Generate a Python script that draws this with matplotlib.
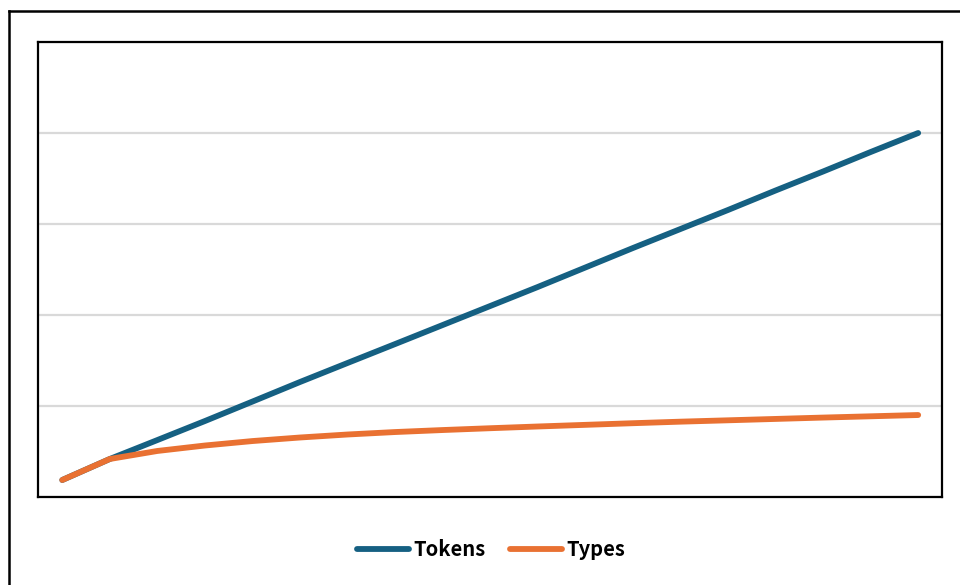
import matplotlib
matplotlib.use('Agg')
import matplotlib.pyplot as plt
from matplotlib.lines import Line2D

# sample number along the text, cumulative counts at each sample
samples = list(range(1, 20))
tokens = [1870, 4180, 6260, 8350, 10490, 12640, 14730, 16810, 18900, 20990,
          23080, 25220, 27360, 29450, 31540, 33680, 35770, 37910, 40000]
types = [1870, 4180, 5060, 5660, 6150, 6540, 6870, 7140, 7360, 7560,
         7750, 7930, 8110, 8280, 8430, 8580, 8730, 8870, 9010]
grid_ticks = [0, 10000, 20000, 30000, 40000, 50000]

BLUE = '#156082'
ORANGE = '#E97132'

fig = plt.figure(figsize=(9.6, 5.85), dpi=100)
ax = fig.add_axes([0.0401, 0.1504, 0.9411, 0.7778])

ax.plot(samples, tokens, color=BLUE, linewidth=4.2, solid_capstyle='round',
        solid_joinstyle='round', label='Tokens', zorder=3)
ax.plot(samples, types, color=ORANGE, linewidth=4.2, solid_capstyle='round',
        solid_joinstyle='round', label='Types', zorder=4)

ax.set_xlim(0.5, 19.5)
ax.set_ylim(grid_ticks[0], grid_ticks[-1])
ax.set_yticks(grid_ticks)
ax.set_xticks([])
ax.tick_params(left=False, labelleft=False)
ax.grid(axis='y', color='#d9d9d9', linewidth=1.6)
ax.set_axisbelow(True)
for s in ax.spines.values():
    s.set_color('black')
    s.set_linewidth(1.6)

# outer frame of the chart area
fig.add_artist(Line2D([9 / 960, 1.0], [1 - 11 / 585, 1 - 11 / 585], color='black', linewidth=1.8))
fig.add_artist(Line2D([9 / 960, 9 / 960], [0.0, 1 - 11 / 585], color='black', linewidth=1.8))

fig.legend(loc='center', bbox_to_anchor=(491 / 960, 1 - 550 / 585), ncol=2, frameon=False,
           prop={'family': ['Noto Sans CJK JP', 'DejaVu Sans'], 'weight': 'bold', 'size': 14.5},
           handlelength=2.6, handletextpad=0.2, columnspacing=1.2)

fig.savefig('out.png', dpi=100)
